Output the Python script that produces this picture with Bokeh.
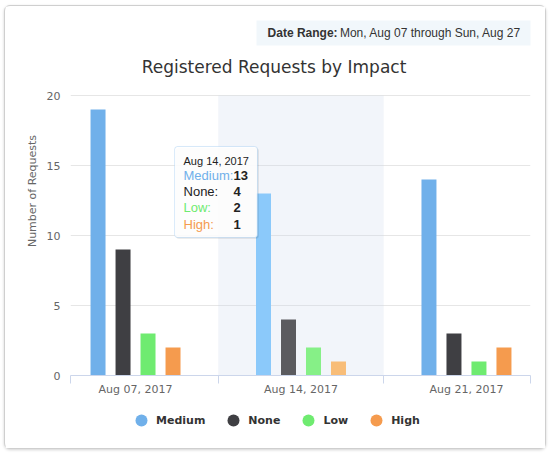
from bokeh.plotting import figure
from bokeh.layouts import column
from bokeh.models import (ColumnDataSource, Range1d, FixedTicker, BoxAnnotation,
                          Label, Legend, LegendItem)
from bokeh.transform import dodge
from bokeh.embed import file_html
from bokeh.resources import INLINE

# data
categories = ["Aug 07, 2017", "Aug 14, 2017", "Aug 21, 2017"]
medium = [19, 13, 14]
none = [9, 4, 3]
low = [3, 2, 1]
high = [2, 1, 2]
series_names = ["Medium", "None", "Low", "High"]
series_values = [medium, none, low, high]
y_ticks = [0, 5, 10, 15, 20]
hovered = 1  # the week shown in the tooltip
date_range_label = "Date Range:"
date_range_text = "Mon, Aug 07 through Sun, Aug 27"
chart_title = "Registered Requests by Impact"

base_colors = ["#70b0ea", "#3f3f43", "#6feb70", "#f59b4e"]
hover_colors = ["#8bc9fa", "#5b5b5f", "#86f087", "#f8bd78"]
offsets = [-0.2266, -0.0755, 0.0755, 0.2266]
bar_width = 0.0906

TXT = "#333333"
AXC = "#666666"
BOX = "#dcebf5"
Y_MAX = y_ticks[-1]
# the frame runs up to the card's top so the title/date box can sit inside it
Y_TOP = 26.36

p = figure(width=540, height=399, x_range=Range1d(-0.393, 2.387), y_range=Range1d(0, Y_TOP),
           output_backend="svg", toolbar_location=None, title=None,
           min_border_left=65, min_border_right=15, min_border_top=0, min_border_bottom=30,
           background_fill_color="white", border_fill_color="white")
p.outline_line_color = None
p.xgrid.grid_line_color = None
p.ygrid.grid_line_color = "#e6e6e6"
p.ygrid.ticker = FixedTicker(ticks=y_ticks)

# hover band behind the middle week
p.add_layout(BoxAnnotation(left=hovered - 0.5, right=hovered + 0.5, bottom=0, top=Y_MAX,
                           fill_color="#ccd6eb", fill_alpha=0.25, line_color=None, level="underlay"))

x = list(range(len(categories)))
for name, vals, base, hov, off in zip(series_names, series_values, base_colors, hover_colors, offsets):
    cols = [hov if i == hovered else base for i in x]
    src = ColumnDataSource(dict(x=x, top=vals, color=cols))
    p.vbar(x=dodge("x", off, range=p.x_range), top="top", width=bar_width, source=src,
           fill_color="color", line_color=None)

# axes
p.xaxis.ticker = FixedTicker(ticks=x, minor_ticks=[-0.392, 0.5, 1.5, 2.386])
p.xaxis.major_label_overrides = {i: c for i, c in enumerate(categories)}
p.xaxis.axis_line_color = "#ccd6eb"
p.xaxis.major_tick_line_color = None
p.xaxis.major_tick_out = 0
p.xaxis.major_tick_in = 0
p.xaxis.minor_tick_line_color = "#ccd6eb"
p.xaxis.minor_tick_out = 8
p.xaxis.minor_tick_in = 0
p.xaxis.major_label_standoff = -1
p.xaxis.major_label_text_font = "DejaVu Sans"
p.xaxis.major_label_text_font_size = "11px"
p.xaxis.major_label_text_color = AXC

p.yaxis.ticker = FixedTicker(ticks=y_ticks)
p.yaxis.axis_line_color = None
p.yaxis.major_tick_line_color = None
p.yaxis.minor_tick_line_color = None
p.yaxis.major_tick_out = 0
p.yaxis.major_label_standoff = 10
p.yaxis.major_label_text_font = "DejaVu Sans"
p.yaxis.major_label_text_font_size = "11px"
p.yaxis.major_label_text_color = AXC
p.yaxis.axis_label = "Number of Requests"
p.yaxis.axis_label_standoff = 5
p.yaxis.axis_label_text_font = "DejaVu Sans"
p.yaxis.axis_label_text_font_style = "normal"
p.yaxis.axis_label_text_font_size = "11px"
p.yaxis.axis_label_text_color = AXC

# title and date range box
p.add_layout(Label(x=0.837, y=22.07, text=chart_title, text_align="center", text_baseline="middle",
                   text_font="DejaVu Sans", text_font_size="17px", text_color=TXT))
p.add_layout(BoxAnnotation(left=0.731, right=2.393, top=25.36, bottom=23.57,
                           fill_color=BOX, line_color=None))
p.add_layout(Label(x=0.798, y=24.46, text=date_range_label, text_align="left", text_baseline="middle",
                   text_font="Liberation Sans", text_font_size="12px", text_font_style="bold",
                   text_color=TXT))
p.add_layout(Label(x=2.332, y=24.46, text=date_range_text, text_align="right", text_baseline="middle",
                   text_font="Liberation Sans", text_font_size="12px", text_color=TXT))

# tooltip for the hovered week
tip_l, tip_r, tip_t, tip_b = hovered - 0.764, hovered - 0.263, 16.36, 9.86
p.add_layout(BoxAnnotation(left=tip_l + 0.008, right=tip_r + 0.008, top=tip_t - 0.1, bottom=tip_b - 0.1,
                           fill_color="black", fill_alpha=0.10, line_color=None, border_radius=3))
p.add_layout(BoxAnnotation(left=tip_l, right=tip_r, top=tip_t, bottom=tip_b,
                           fill_color="white", fill_alpha=0.9, line_color="#7cb5ec",
                           line_width=1, border_radius=3))
p.add_layout(Label(x=hovered - 0.71, y=15.29, text=categories[hovered], text_baseline="middle",
                   text_font="Liberation Sans", text_font_size="11px", text_color="#222222"))
for k, (name, vals, base) in enumerate(zip(series_names, series_values, base_colors)):
    yy = 14.29 - k * 1.16
    lab_color = "#222222" if name == "None" else base
    p.add_layout(Label(x=hovered - 0.71, y=yy, text=name + ":", text_baseline="middle",
                       text_font="Liberation Sans", text_font_size="13px", text_color=lab_color))
    p.add_layout(Label(x=hovered - 0.408, y=yy, text=str(vals[hovered]), text_baseline="middle",
                       text_font="Liberation Sans", text_font_size="13px", text_font_style="bold",
                       text_color="#222222"))

# legend strip under the chart (proxy points sit outside the visible range)
leg = figure(width=540, height=43, x_range=Range1d(0, 1), y_range=Range1d(0, 1),
             x_axis_location=None, y_axis_location=None, output_backend="svg",
             toolbar_location=None, min_border=0, background_fill_color="white",
             border_fill_color="white")
leg.outline_line_color = None
leg.grid.visible = False
items = []
for name, base in zip(series_names, base_colors):
    r = leg.scatter(x=[-5], y=[-5], marker="circle", size=12, fill_color=base, line_color=None)
    items.append(LegendItem(label=name, renderers=[r]))
legend = Legend(items=items, orientation="horizontal", location=(56, 13),
                glyph_width=30, glyph_height=30, label_standoff=0, spacing=13,
                padding=0, margin=0, border_line_color=None, background_fill_alpha=0,
                label_text_font="DejaVu Sans", label_text_font_style="bold",
                label_text_font_size="11px", label_text_color=TXT)
leg.add_layout(legend, "center")

card = column(p, leg, spacing=0, margin=(5, 0, 0, 4),
              styles={"border": "1px solid #cfcfcf", "border-radius": "6px",
                      "box-shadow": "0 1px 3px rgba(0,0,0,0.18)", "background": "white"})

open("out.html", "w").write(file_html(card, INLINE))
